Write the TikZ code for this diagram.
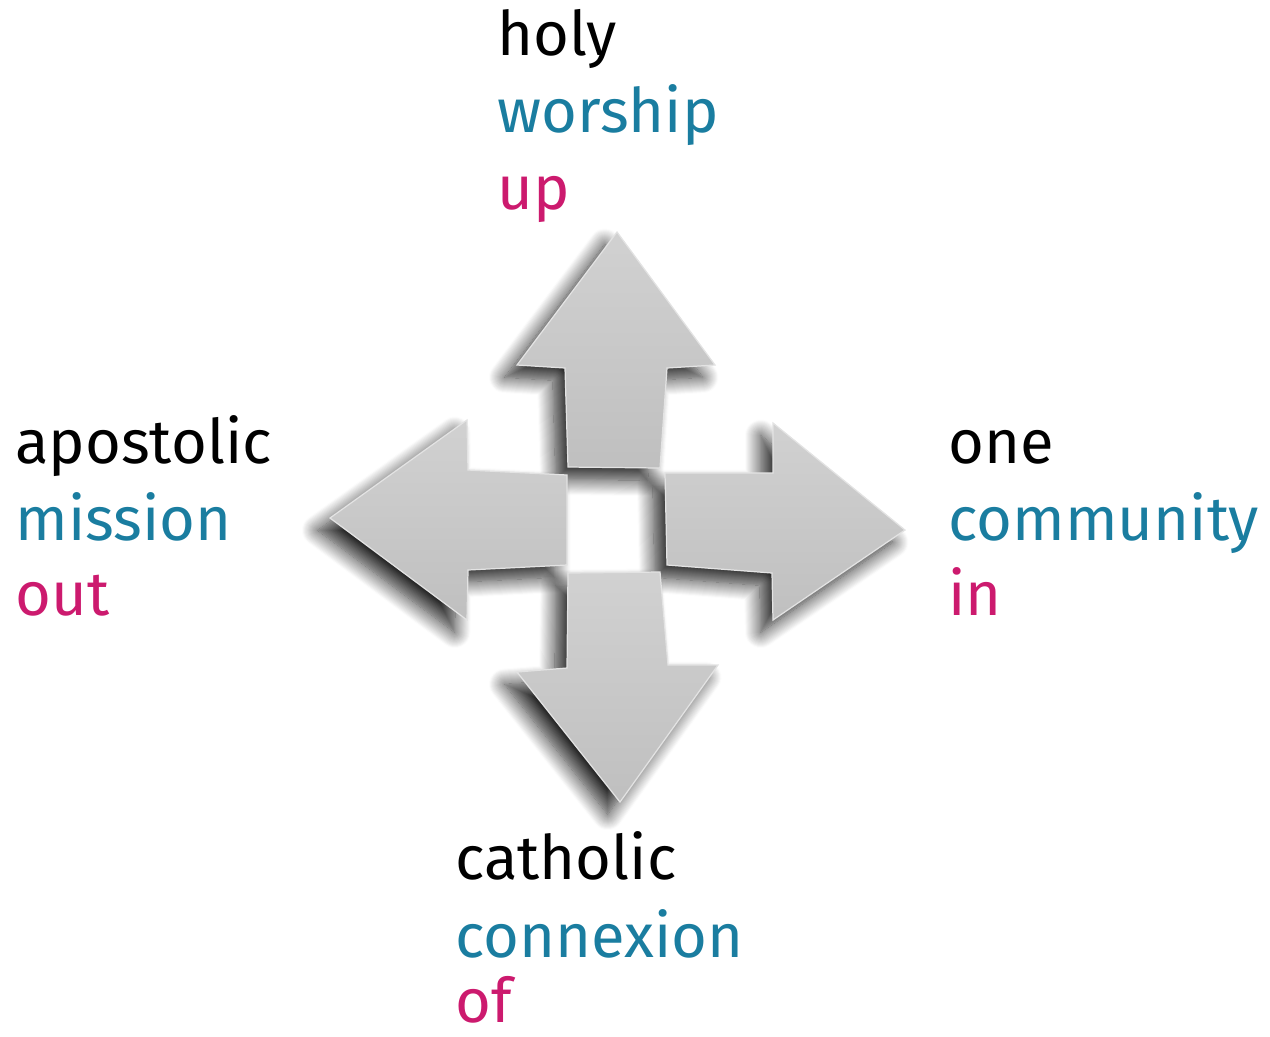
\documentclass[tikz,border=0pt]{standalone}
\usepackage{fontspec}
\setmainfont{Fira Sans}
\usetikzlibrary{positioning, shadows.blur}

\definecolor{wordteal}{RGB}{26,125,160}
\definecolor{wordpink}{RGB}{204,26,110}

\begin{document}
\begin{tikzpicture}[
    x=0.02cm, y=-0.02cm,
    word/.style={anchor=base west, inner sep=0pt, font=\fontsize{35}{42}\selectfont},
    arrowshape/.style={top color=gray!36, bottom color=gray!50, draw=gray!22, line width=0.7pt,
        blur shadow={shadow xshift=-7pt, shadow yshift=-7pt, shadow blur radius=9pt,
            shadow blur steps=16, shadow opacity=85}}
]
\useasboundingbox (0,0) rectangle (1270,1036);

% Up arrow
\path[arrowshape] (617,232) -- (715,365) -- (667,368) -- (660,468) -- (568,467) -- (565,368) -- (517,365) -- cycle;

% Left arrow
\path[arrowshape] (330,518) -- (467,420) -- (468,470) -- (567,475) -- (567,565) -- (468,570) -- (467,620) -- cycle;

% Right arrow
\path[arrowshape] (905,530) -- (773,620) -- (772,573) -- (667,565) -- (665,473) -- (773,473) -- (773,423) -- cycle;

% Down arrow
\path[arrowshape] (620,802) -- (517,672) -- (567,668) -- (568,573) -- (660,572) -- (668,665) -- (718,665) -- cycle;

% Top words
\node[word] (holy) at (497,55) {holy};
\node[word, wordteal] (worship) at (497,132) {worship};
\node[word, wordpink] (up) at (497,209) {up};

% Left words
\node[word] (apostolic) at (15,463) {apostolic};
\node[word, wordteal] (mission) at (15,540) {mission};
\node[word, wordpink] (out) at (15,615) {out};

% Right words
\node[word] (one) at (948,463) {one};
\node[word, wordteal] (community) at (948,540) {community};
\node[word, wordpink] (in) at (948,615) {in};

% Bottom words
\node[word] (catholic) at (455,879) {catholic};
\node[word, wordteal] (connexion) at (455,957) {connexion};
\node[word, wordpink] (of) at (455,1022) {of};

\end{tikzpicture}
\end{document}
